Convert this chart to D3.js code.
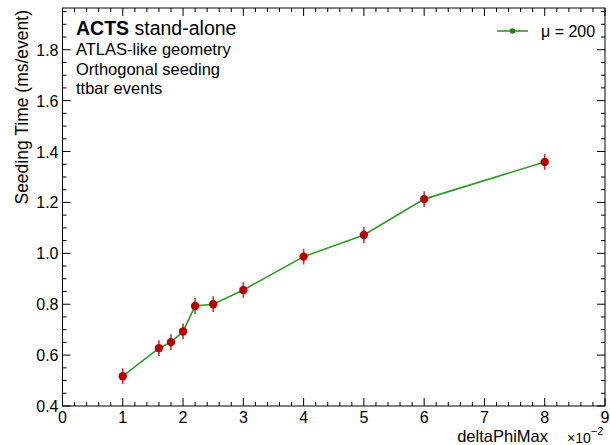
<!DOCTYPE html>
<html>
<head>
<meta charset="utf-8">
<script src="https://cdn.jsdelivr.net/npm/d3@7"></script>
<style>
  body { margin: 0; background: #fff; }
  text { font-family: "Liberation Sans", Arial, sans-serif; fill: #000; }
</style>
</head>
<body>
<div id="chart"></div>
<script>
// deltaPhiMax (x 1e-2) and seeding time (ms/event)
const deltaPhi = [1.0, 1.6, 1.8, 2.0, 2.2, 2.5, 3.0, 4.0, 5.0, 6.0, 8.0];
const seedTime = [0.517, 0.627, 0.651, 0.693, 0.793, 0.800, 0.856, 0.987, 1.072, 1.213, 1.359];
const seedErr  = [0.031, 0.031, 0.031, 0.031, 0.031, 0.031, 0.031, 0.031, 0.031, 0.031, 0.031];
const xTicks = [0, 1, 2, 3, 4, 5, 6, 7, 8, 9];
const yTicks = [0.4, 0.6, 0.8, 1.0, 1.2, 1.4, 1.6, 1.8];
const infoLines = ["ATLAS-like geometry", "Orthogonal seeding", "ttbar events"];
const legendLabel = "\u03bc = 200";

const W = 610, H = 445;
const margin = {left: 62.5, right: 5, top: 8, bottom: 39};

const svg = d3.select("#chart").append("svg").attr("width", W).attr("height", H);

const x = d3.scaleLinear().domain([0, 9]).range([margin.left, W - margin.right]);
const y = d3.scaleLinear().domain([0.4, 1.964]).range([H - margin.bottom, margin.top]);

const pts = deltaPhi.map((d, i) => ({x: d, y: seedTime[i], e: seedErr[i]}));

// frame
svg.append("rect")
  .attr("x", x(0)).attr("y", y(1.964))
  .attr("width", x(9) - x(0)).attr("height", y(0.4) - y(1.964))
  .attr("fill", "none").attr("stroke", "#000").attr("stroke-width", 1);

// ticks (ROOT style, inside, on all four sides)
const xMinor = d3.range(0, 9.001, 0.2);
const yMinor = d3.range(0.4, 1.964, 0.05);
const tickG = svg.append("g").attr("stroke", "#000").attr("stroke-width", 1);
xMinor.forEach(v => {
  const major = Math.abs(v - Math.round(v)) < 1e-6;
  const len = major ? 8 : 4;
  tickG.append("line").attr("x1", x(v)).attr("x2", x(v)).attr("y1", y(0.4)).attr("y2", y(0.4) - len);
  tickG.append("line").attr("x1", x(v)).attr("x2", x(v)).attr("y1", y(1.964)).attr("y2", y(1.964) + len);
});
yMinor.forEach(v => {
  const major = Math.abs(v * 5 - Math.round(v * 5)) < 1e-6;
  const len = major ? 8 : 4;
  tickG.append("line").attr("y1", y(v)).attr("y2", y(v)).attr("x1", x(0)).attr("x2", x(0) + len);
  tickG.append("line").attr("y1", y(v)).attr("y2", y(v)).attr("x1", x(9)).attr("x2", x(9) - len);
});

// tick labels
svg.append("g").selectAll("text").data(xTicks).enter().append("text")
  .attr("x", d => x(d)).attr("y", y(0.4) + 17)
  .attr("text-anchor", "middle").style("font-size", "16px")
  .text(d => d);
svg.append("g").selectAll("text").data(yTicks).enter().append("text")
  .attr("x", x(0) - 4).attr("y", d => y(d) + 6)
  .attr("text-anchor", "end").style("font-size", "16px")
  .text(d => d.toFixed(1));

// axis titles
svg.append("text")
  .attr("x", 548).attr("y", 442)
  .attr("text-anchor", "end").style("font-size", "16.5px")
  .text("deltaPhiMax");
const mult = svg.append("text").attr("x", 567).attr("y", 443).style("font-size", "14px");
mult.append("tspan").text("\u00d710");
mult.append("tspan").attr("dy", -8).style("font-size", "11px").text("\u22122");

svg.append("text")
  .attr("transform", `translate(28, ${y(1.964) + 2}) rotate(-90)`)
  .attr("text-anchor", "end").style("font-size", "17.5px")
  .text("Seeding Time (ms/event)");

// line
svg.append("path").datum(pts)
  .attr("fill", "none").attr("stroke", "#2f9a22").attr("stroke-width", 1.6)
  .attr("d", d3.line().x(d => x(d.x)).y(d => y(d.y)));

// error bars
svg.append("g").selectAll("line").data(pts).enter().append("line")
  .attr("x1", d => x(d.x)).attr("x2", d => x(d.x))
  .attr("y1", d => y(d.y - d.e)).attr("y2", d => y(d.y + d.e))
  .attr("stroke", "#c8343a").attr("stroke-width", 1.6);

// markers
svg.append("g").selectAll("circle").data(pts).enter().append("circle")
  .attr("cx", d => x(d.x)).attr("cy", d => y(d.y)).attr("r", 4.2)
  .attr("fill", "#b80000");

// header text
const title = svg.append("text").attr("x", 76).attr("y", 35).style("font-size", "19.5px");
title.append("tspan").style("font-weight", "bold").text("ACTS");
title.append("tspan").text(" stand-alone");
svg.append("g").selectAll("text").data(infoLines).enter().append("text")
  .attr("x", 76).attr("y", (d, i) => 55 + i * 19.5)
  .style("font-size", "16.5px")
  .text(d => d);

// legend
const lg = svg.append("g");
lg.append("line").attr("x1", 497).attr("x2", 528).attr("y1", 31).attr("y2", 31)
  .attr("stroke", "#2f9a22").attr("stroke-width", 1.6);
lg.append("circle").attr("cx", 512.5).attr("cy", 31).attr("r", 2.8).attr("fill", "#1e7d14");
lg.append("text").attr("x", 541).attr("y", 37).style("font-size", "16px").text(legendLabel);
</script>
</body>
</html>
